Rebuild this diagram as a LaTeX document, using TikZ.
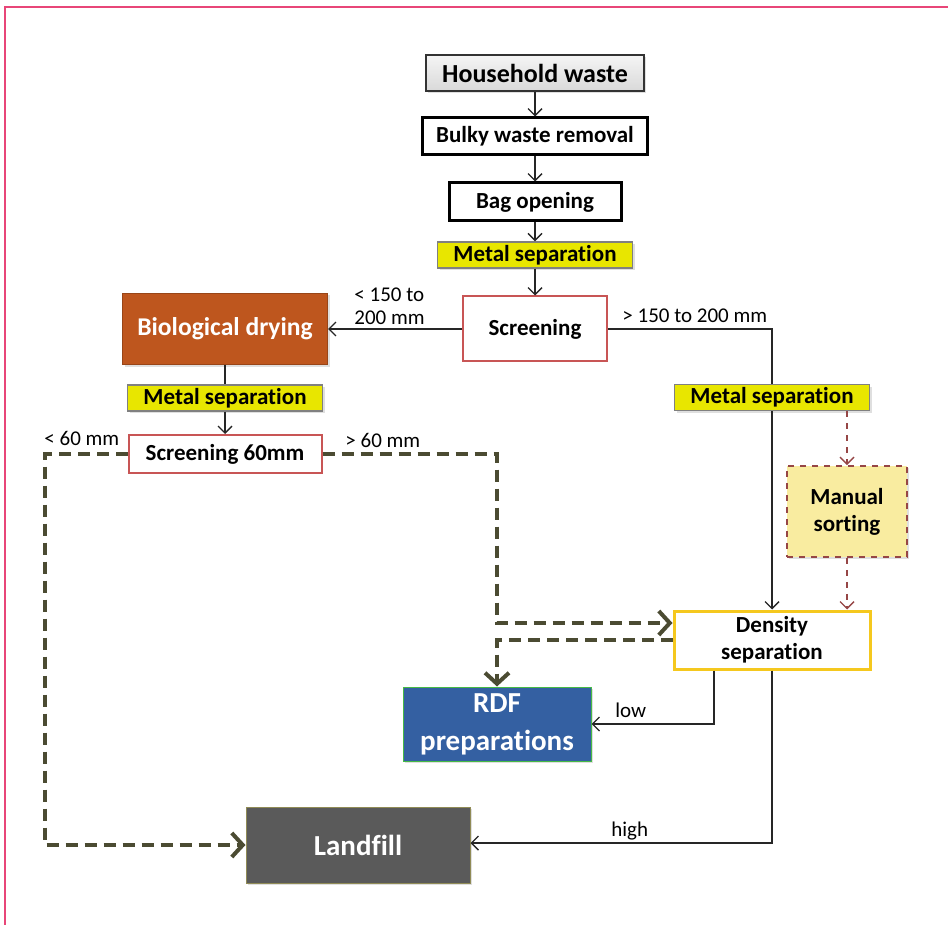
\documentclass[tikz,border=0pt]{standalone}
\usepackage{fontspec}
\setmainfont{Carlito}[Ligatures=NoCommon]
\usetikzlibrary{arrows.meta,shadows}

\definecolor{framePink}{RGB}{232,70,120}
\definecolor{metalYellow}{RGB}{232,230,0}
\definecolor{screenRed}{RGB}{200,85,85}
\definecolor{bioBrown}{RGB}{190,86,30}
\definecolor{rdfBlue}{RGB}{52,96,162}
\definecolor{landGray}{RGB}{90,90,90}
\definecolor{manualFill}{RGB}{249,236,160}
\definecolor{manualEdge}{RGB}{150,70,70}
\definecolor{densityEdge}{RGB}{245,200,30}
\definecolor{rejectOlive}{RGB}{75,75,50}

\begin{document}
\begin{tikzpicture}[
    x=0.5pt, y=-0.5pt,
    every node/.append style={font=\fontsize{11.5}{13.5}\selectfont\bfseries, inner sep=0pt, align=center},
    shade/.style={drop shadow={opacity=0.25, shadow xshift=1pt, shadow yshift=-1pt}},
    stage/.style={rectangle, draw=black, line width=1.5pt, fill=white, minimum height=18.5pt},
    metal/.style={rectangle, draw=gray, line width=0.6pt, fill=metalYellow, minimum width=97.5pt, minimum height=13pt, shade},
    sieve/.style={rectangle, draw=screenRed, line width=1pt, fill=white},
    product/.style={rectangle, text=white, font=\fontsize{14.5}{19}\selectfont\bfseries, shade},
    lbl/.style={font=\fontsize{10.5}{11.5}\selectfont, anchor=west, align=left},
    flow/.style={draw=black!85, line width=0.7pt, -{Straight Barb[length=3.5pt, width=7pt]}},
    sortflow/.style={draw=manualEdge, line width=0.7pt, dashed, -{Straight Barb[length=3.5pt, width=7pt]}},
    reject/.style={draw=rejectOlive, line width=2pt, dash pattern=on 6pt off 3.5pt, -{Straight Barb[length=5.5pt, width=12pt]}}
]
    \useasboundingbox (0,0) rectangle (948,925);
    % Marco
    \draw[framePink, line width=1.2pt] (5,925) -- (5,7) -- (948,7);

    % Columna central
    \node[stage, draw=black!80, line width=0.8pt, top color=gray!8, bottom color=gray!30, minimum width=109pt, minimum height=18pt,
          font=\fontsize{13}{15}\selectfont\bfseries, shade] (household) at (535,73) {Household waste};
    \node[stage, minimum width=112.5pt] (bulky) at (535,136.5) {Bulky waste removal};
    \node[stage, minimum width=86pt, minimum height=19pt] (bagOpening) at (535,202) {Bag opening};
    \node[metal] (metalTop) at (535,255) {Metal separation};
    \node[sieve, minimum width=72pt, minimum height=32.5pt] (screening) at (535,329) {Screening};

    % Rama izquierda
    \node[product, fill=bioBrown, draw=bioBrown!80!black, line width=0.5pt, minimum width=102.5pt, minimum height=35.5pt,
          font=\fontsize{12.8}{15}\selectfont\bfseries] (bioDrying) at (225,329) {Biological drying};
    \node[metal] (metalLeft) at (225,398) {Metal separation};
    \node[sieve, minimum width=96.5pt, minimum height=19pt] (screening60) at (225,454) {Screening 60mm};

    % Rama derecha
    \node[metal] (metalRight) at (772,397.5) {Metal separation};
    \node[rectangle, draw=manualEdge, line width=0.8pt, dashed, fill=manualFill, minimum width=60pt, minimum height=45.5pt, shade]
          (manualSort) at (847,511.5) {Manual\\sorting};
    \node[rectangle, draw=densityEdge, line width=1.5pt, fill=white, minimum width=98pt, minimum height=29pt]
          (density) at (772,640) {Density\\separation};

    % Productos
    \node[product, fill=rdfBlue, draw=green!45!gray, line width=0.5pt, minimum width=94pt, minimum height=37pt] (rdf) at (497,724) {RDF\\preparations};
    \node[product, fill=landGray, draw=olive!40!gray, line width=0.5pt, minimum width=112pt, minimum height=38pt] (landfill) at (358,845) {Landfill};

    % Etiquetas
    \node[lbl] (lblFine) at (354,306) {< 150 to\\200 mm};
    \node[lbl] (lblCoarse) at (622,316) {> 150 to 200 mm};
    \node[lbl] (lblUnder60) at (44,438) {< 60 mm};
    \node[lbl] (lblOver60) at (345,440) {> 60 mm};
    \node[lbl] (lblLow) at (615,710) {low};
    \node[lbl] (lblHigh) at (611,831) {high};

    % Flujos
    \draw[flow] (household) -- (bulky);
    \draw[flow] (bulky) -- (bagOpening);
    \draw[flow] (bagOpening) -- (metalTop);
    \draw[flow] (metalTop) -- (screening);
    \draw[flow] (screening) -- (bioDrying);
    \draw[draw=black!85, line width=0.7pt] (screening.east) -| (metalRight.north);
    \draw[flow] (metalRight) -- (density);
    \draw[draw=black!85, line width=0.7pt] (bioDrying) -- (metalLeft);
    \draw[flow] (metalLeft) -- (screening60);
    \draw[sortflow] (metalRight.south -| manualSort) -- (manualSort);
    \draw[sortflow] (manualSort) -- (manualSort |- density.north);
    \draw[flow] ([xshift=-29pt]density.south) |- (rdf.east);
    \draw[flow] (density.south) |- ([yshift=1pt]landfill.east);

    % Rechazos
    \coordinate (leftBend) at (45,454);
    \coordinate (midBend) at (497,454);
    \draw[reject] (screening60.west) -- (leftBend) |- (landfill.west);
    \draw[reject] (screening60.east) -- (midBend) |- ([yshift=8.5pt]density.west);
    \draw[reject] (density.west) -| (rdf.north);
\end{tikzpicture}
\end{document}
